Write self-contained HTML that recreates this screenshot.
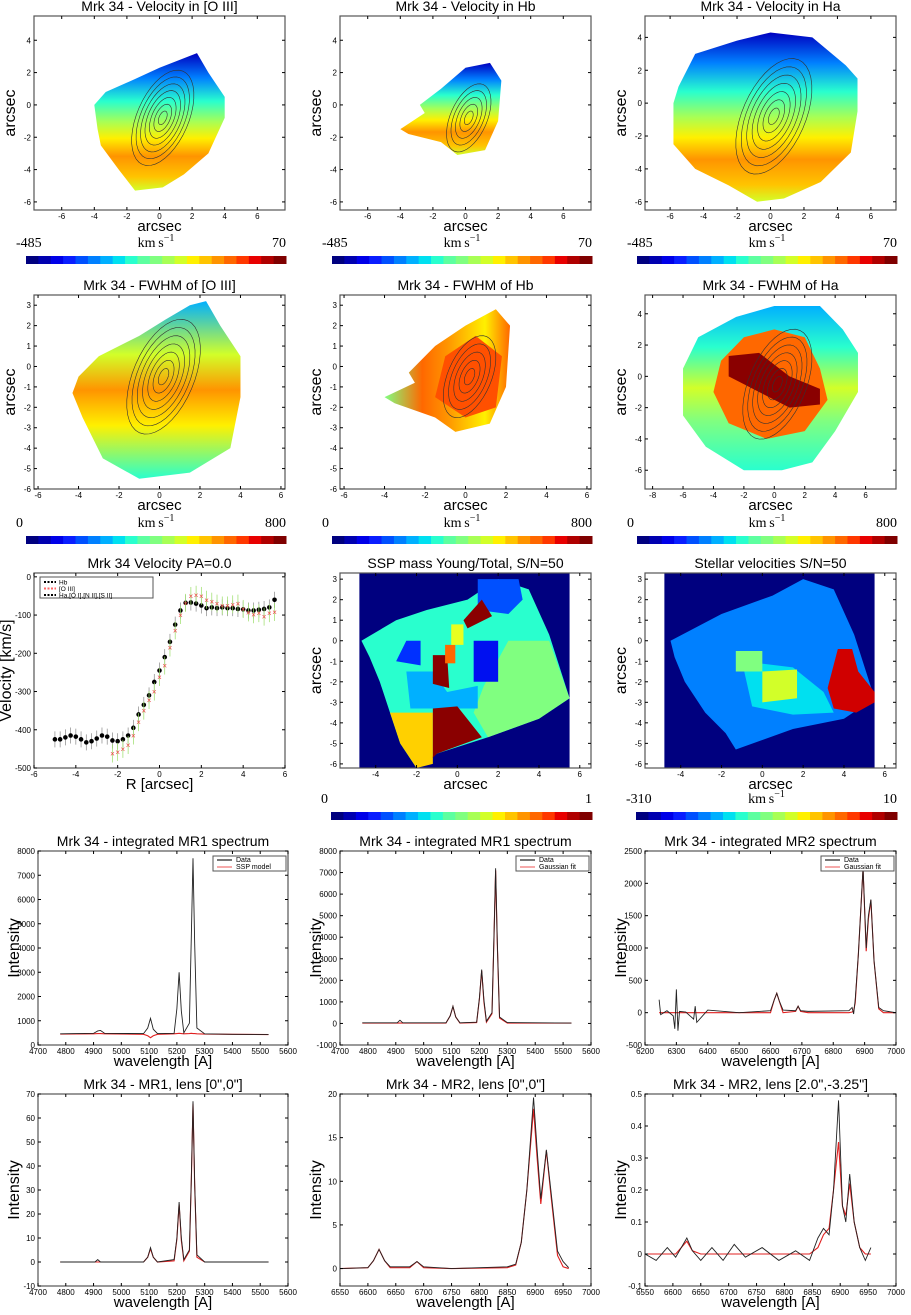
<!DOCTYPE html>
<html><head><meta charset="utf-8"><style>
body{margin:0;background:#fff;width:911px;height:1310px;overflow:hidden;font-family:"Liberation Sans",sans-serif}
svg text{font-family:"Liberation Sans",sans-serif}
</style></head><body>
<svg id="fig" width="911" height="1310" viewBox="0 0 911 1310" xmlns="http://www.w3.org/2000/svg"></svg>
<script>
// ---- data arrays ----
const paR=[-5,-4.75,-4.5,-4.25,-4,-3.75,-3.5,-3.25,-3,-2.75,-2.5,-2.25,-2,-1.75,-1.5,-1.25,-1,-0.75,-0.5,-0.25,0,0.25,0.5,0.75,1,1.25,1.5,1.75,2,2.25,2.5,2.75,3,3.25,3.5,3.75,4,4.25,4.5,4.75,5,5.25,5.5];
const paHa=[-425,-425,-420,-415,-418,-425,-433,-430,-423,-415,-418,-428,-430,-425,-415,-395,-360,-335,-310,-275,-245,-210,-170,-125,-88,-68,-67,-70,-75,-82,-80,-82,-80,-82,-82,-84,-85,-88,-88,-86,-84,-80,-60];
const paO3R=[-2.25,-2,-1.75,-1.5,-1.25,-1,-0.75,-0.5,-0.25,0,0.25,0.5,0.75,1,1.25,1.5,1.75,2,2.25,2.5,2.75,3,3.25,3.5,3.75,4,4.25,4.5,4.75,5,5.25,5.5];
const paO3=[-462,-458,-450,-440,-415,-380,-350,-322,-300,-262,-232,-185,-140,-100,-68,-50,-47,-50,-60,-65,-70,-75,-75,-72,-70,-84,-93,-98,-95,-104,-95,-92];
const specA_w=[4780,4900,4915,4925,4940,5080,5095,5105,5115,5130,5190,5200,5208,5216,5225,5245,5252,5258,5264,5272,5300,5400,5530];
const specA_d=[460,480,580,600,480,470,700,1100,650,470,480,1500,3000,1400,500,900,4500,7700,4200,700,460,440,430];
const specA_m=[450,460,470,470,460,440,380,300,380,440,460,470,480,470,460,470,480,470,470,460,450,440,430];
const specB_w=[4780,4905,4915,4925,5080,5095,5105,5115,5130,5190,5200,5208,5216,5225,5245,5252,5258,5264,5272,5300,5530];
const specB_d=[30,30,150,30,30,350,800,300,30,60,1200,2500,1100,100,500,4000,7200,3800,300,40,20];
const specB_m=[20,20,20,20,20,350,780,300,20,40,1150,2450,1000,60,450,3900,7100,3700,250,20,20];
const specC_w=[6245,6250,6270,6290,6295,6300,6305,6310,6330,6355,6360,6365,6400,6500,6600,6612,6620,6628,6640,6680,6688,6696,6720,6850,6860,6865,6870,6880,6895,6905,6912,6920,6930,6945,6960,7000];
const specC_d=[200,-30,30,-50,-250,360,-280,20,10,-100,100,-150,40,0,30,200,300,180,40,30,100,30,20,30,80,-20,200,900,2250,1000,1500,1750,800,80,30,0];
const specC_m=[0,0,0,0,0,0,0,0,0,0,0,0,0,0,0,200,300,180,0,20,100,20,0,0,10,30,150,900,2220,950,1450,1740,800,60,0,0];
const specD_w=[4780,4905,4915,4925,5080,5095,5105,5115,5130,5190,5200,5208,5216,5225,5245,5252,5258,5264,5272,5300,5530];
const specD_d=[0,0,1,0,0,2,6,2,0,1,10,25,10,1,5,35,67,33,3,0,0];
const specD_m=[0,0,0,0,0,2,5.5,2,0,0.5,9.5,24,9,0.5,4.5,34,66,32,2,0,0];
const specE_w=[6550,6600,6610,6620,6630,6640,6675,6688,6700,6750,6850,6865,6875,6885,6897,6903,6910,6920,6928,6940,6950,6960];
const specE_d=[0,0.1,0.9,2.2,0.9,0.2,0.2,0.8,0.2,0,0.2,0.5,3,9,19.6,14,8,13.6,9,2,0.8,0.1];
const specE_m=[0,0.1,0.9,2.2,0.9,0.1,0.1,0.8,0.1,0,0.1,0.4,3,9,18.3,13,7.4,13.5,8.5,1.5,0.2,0];
const specF_w=[6550,6570,6590,6605,6615,6625,6635,6650,6670,6690,6710,6730,6760,6790,6820,6845,6860,6870,6880,6888,6897,6904,6910,6917,6925,6935,6945,6955];
const specF_d=[0,-0.02,0.02,-0.01,0.02,0.05,0.01,-0.02,0.02,-0.02,0.03,-0.01,0.02,-0.02,0.01,-0.02,0.05,0.08,0.06,0.2,0.48,0.15,0.1,0.25,0.1,0.02,-0.02,0.02];
const specF_m=[0,0,0,0,0.02,0.04,0.01,0,0,0,0,0,0,0,0,0,0.02,0.06,0.08,0.2,0.35,0.15,0.12,0.22,0.1,0.02,0,0];
const jet=['#00007f','#0000b0','#0000e8','#0a1eff','#0050ff','#0080ff','#00b0ff','#00e0f0','#29ffce','#5dffa0','#80ff80','#a8ff55','#d2ff29','#fff000','#ffc400','#ff9400','#ff6800','#ff3800','#e80000','#b00000','#7f0000'];

const S=document.getElementById('fig');const NS='http://www.w3.org/2000/svg';
function el(t,a,p){const e=document.createElementNS(NS,t);for(const k in a)e.setAttribute(k,a[k]);(p||S).appendChild(e);return e;}
function txt(x,y,s,size,anchor,p,rot){const e=el('text',{x:x,y:y,'font-size':size,'text-anchor':anchor||'middle',fill:'#000'},p);if(rot)e.setAttribute('transform','rotate(-90 '+x+' '+y+')');e.textContent=s;return e;}
function axes(name,x0,y0,x1,y1,xmin,xmax,ymin,ymax,xt,yt,title,xl,yl,ylx){
  const g=el('g',{});
  const sx=v=>x0+(v-xmin)/(xmax-xmin)*(x1-x0), sy=v=>y1-(v-ymin)/(ymax-ymin)*(y1-y0);
  return {g,sx,sy,finish(){
    el('rect',{x:x0,y:y0,width:x1-x0,height:y1-y0,fill:'none',stroke:'#555','stroke-width':1.2},g);
    xt.forEach(v=>{el('line',{x1:sx(v),x2:sx(v),y1:y1,y2:y1-3,stroke:'#000'},g);el('line',{x1:sx(v),x2:sx(v),y1:y0,y2:y0+3,stroke:'#000'},g);txt(sx(v),y1+9,String(v),8,'middle',g);});
    yt.forEach(v=>{el('line',{x1:x0,x2:x0+3,y1:sy(v),y2:sy(v),stroke:'#000'},g);el('line',{x1:x1,x2:x1-3,y1:sy(v),y2:sy(v),stroke:'#000'},g);txt(x0-3,sy(v)+3,String(v),8,'end',g);});
    const t=txt((x0+x1)/2,y0-5,title,14,'middle',g);
    txt((x0+x1)/2,y1+21,xl,15,'middle',g);
    txt(ylx||x0-19,(y0+y1)/2,yl,16,'middle',g,true);
  }};
}
function colorbar(x0,x1,y,lo,hi,unit){
  const g=el('g',{});
  const w=(x1-x0)/jet.length;jet.forEach((c,i)=>el('rect',{x:x0+i*w,y:y,width:w+0.5,height:8,fill:c},g));
  const f='font-family:"Liberation Serif",serif';
  let a=txt(x0-10,y-9,lo,14,'start',g);a.setAttribute('style',f);
  a=txt(x1,y-9,hi,14,'end',g);a.setAttribute('style',f);
  if(unit){a=txt((x0+x1)/2,y-9,'',14,'middle',g);a.setAttribute('style',f);a.innerHTML='km\u2009s<tspan dy="-6" font-size="10">\u22121</tspan>';}
}
let gid=0;
function grad(stops,vertical){const id='g'+(gid++);const d=el('defs',{});const lg=el('linearGradient',{id:id,x1:0,y1:0,x2:vertical?0:1,y2:vertical?1:0},d);stops.forEach(s=>el('stop',{offset:s[0],'stop-color':s[1]},lg));return 'url(#'+id+')';}
function blob(A,pts,fill,name){const p=el('polygon',{points:pts.map(q=>A.sx(q[0])+','+A.sy(q[1])).join(' '),fill:fill},A.g);return p;}
function contours(A,cx,cy,n,sc,dash){for(let i=1;i<=n;i++){const r=i*sc;
  const pts=[];for(let k=0;k<=40;k++){const t=k/40*2*Math.PI;const x=cx+0.6*r*Math.cos(t)+0.25*r*Math.sin(t);const y=cy+r*Math.sin(t)*1.0+0.1*r*Math.cos(t);pts.push(A.sx(x)+','+A.sy(y));}
  el('polyline',{points:pts.join(' '),fill:'none',stroke:'#333','stroke-width':0.6,'stroke-dasharray':dash||'none'},A.g);}}

const velGrad=()=>grad([[0,'#0000c0'],[0.18,'#0080ff'],[0.35,'#29ffce'],[0.5,'#a8ff55'],[0.62,'#fff000'],[0.75,'#ff9400'],[0.9,'#ffc400'],[1,'#d2ff29']],true);
const cols=[[34,285],[340,591],[645,896]];
// Row 1 velocity maps
const r1t=['Mrk 34 - Velocity in [O III]','Mrk 34 - Velocity in Hb','Mrk 34 - Velocity in Ha'];
const r1shapes=[
 [[-4,0],[-3.3,0.8],[-1.5,1.6],[0,2.3],[2.3,3.2],[3,2],[4,0.5],[4,-0.8],[3,-3],[1.5,-4.3],[0.2,-5.1],[-1.5,-5.3],[-2.5,-4],[-3.6,-2.5],[-3.8,-1.5]],
 [[-2.8,0],[-1.5,1],[0,2.3],[1.5,2.6],[2.2,1.5],[2,-1],[1.2,-2.8],[-0.5,-3.1],[-1.5,-2.3],[-3.5,-1.8],[-4,-1.5],[-2.5,-0.5]],
 [[-5.5,1],[-4.5,3],[-2,3.8],[0,4.3],[2.5,4],[4.5,2.3],[5.2,1.5],[5.2,-0.5],[4.8,-3],[3,-4.8],[0.8,-5.8],[-0.8,-6],[-2.5,-5],[-4.5,-4],[-5.8,-2.5],[-5.8,0]]];
const r1rng=[[-7.7,7.7,-6.5,5.5],[-7.7,7.7,-6.5,5.5],[-7.5,7.5,-6.5,5.3]];
for(let c=0;c<3;c++){const [a,b]=cols[c];const R=r1rng[c];
  const A=axes('velocity-map-'+(c+1),a,16,b,210,R[0],R[1],R[2],R[3],[-6,-4,-2,0,2,4,6],[-6,-4,-2,0,2,4],r1t[c],'arcsec','arcsec');
  blob(A,r1shapes[c],velGrad(),'velocity-field');contours(A,0.2,-0.8,c==1?5:7,c==2?0.5:0.42);A.finish();
  colorbar(a-8,b+1,256,'-485','70',true);}
// Row 2 FWHM maps
const r2t=['Mrk 34 - FWHM of [O III]','Mrk 34 - FWHM of Hb','Mrk 34 - FWHM of Ha'];
const r2rng=[[-6.2,6.2,-6,3.5],[-6.2,6.2,-6,3.5],[-8.5,8,-7.2,5.2]];
const r2ticks=[[[-6,-4,-2,0,2,4,6],[-6,-5,-4,-3,-2,-1,0,1,2,3]],[[-6,-4,-2,0,2,4,6],[-6,-5,-4,-3,-2,-1,0,1,2,3]],[[-8,-6,-4,-2,0,2,4,6],[-6,-4,-2,0,2,4]]];
const r2shapes=[
 [[-4,-0.5],[-3,0.5],[-1,1.5],[0.3,2.3],[1.5,3],[2.3,3.2],[3,2],[4,0.5],[4,-1.5],[3.5,-4],[1.5,-5.2],[-1,-5.5],[-2.8,-4.5],[-3.8,-2.5],[-4.3,-1.3]],
 [[-2.8,-0.3],[-1.5,1],[0,2],[1.5,2.8],[2.2,2],[2,-1],[1.2,-2.8],[-0.5,-3.2],[-1.5,-2.5],[-3.5,-1.8],[-4,-1.5],[-2.5,-0.8]],
 [[-6,0.5],[-5,2.5],[-2.5,3.8],[0,4.5],[3,4.5],[4.5,3],[5.5,1.5],[5.5,-1],[4,-3.5],[2.5,-5.5],[0.5,-6],[-2,-6],[-4.5,-4.5],[-6,-2.5]]];
const r2fill=[
 grad([[0,'#00b0ff'],[0.3,'#d2ff29'],[0.5,'#ff9400'],[0.7,'#fff000'],[1,'#29ffce']],true),
 grad([[0,'#80ff80'],[0.3,'#ff6800'],[0.5,'#ff9400'],[0.8,'#fff000'],[1,'#ff6800']],false),
 grad([[0,'#00b0ff'],[0.25,'#29ffce'],[0.5,'#d2ff29'],[0.7,'#80ff80'],[1,'#29ffce']],true)];
for(let c=0;c<3;c++){const [a,b]=cols[c];const R=r2rng[c];
  const A=axes('fwhm-map-'+(c+1),a,295,b,489,R[0],R[1],R[2],R[3],r2ticks[c][0],r2ticks[c][1],r2t[c],'arcsec','arcsec');
  blob(A,r2shapes[c],r2fill[c],'fwhm-field');
  if(c==2){blob(A,[[-3.5,1],[-2,2.5],[0,3],[2,2.5],[3,0.5],[3.5,-1.5],[2,-3.5],[-0.5,-4],[-3,-3],[-4,-1]],'#ff6800','fwhm-high');
    blob(A,[[-3,1.3],[-1,1.5],[1,0],[3,-0.8],[3,-1.8],[1,-2],[-1,-1],[-3,0]],'#8a0000','fwhm-peak');}
  if(c==1){blob(A,[[-1,0.5],[0.5,1.5],[1.8,0.5],[1.5,-2],[0,-2.5],[-1.5,-1.5]],'#ff5000','fwhm-high');}
  contours(A,0.2,-0.5,c==1?5:7,c==2?0.5:0.4);A.finish();
  colorbar(a-8,b+1,536,'0','800',true);}
// Row 3 col1: velocity PA
{const A=axes('velocity-pa-chart',34,573,285,768,-6,6,-500,10,[-6,-4,-2,0,2,4,6],[-500,-400,-300,-200,-100,0],'Mrk 34  Velocity PA=0.0','R [arcsec]','Velocity [km/s]',11);
 paR.forEach((r,i)=>{const x=A.sx(r),y=A.sy(paHa[i]);el('line',{x1:x,x2:x,y1:y-8,y2:y+8,stroke:'#888','stroke-width':0.7},A.g);const m=el('circle',{cx:x,cy:y,r:2.3,fill:'#000'},A.g);});
 paO3R.forEach((r,i)=>{const x=A.sx(r),y=A.sy(paO3[i]);el('line',{x1:x,x2:x,y1:y-9,y2:y+9,stroke:'#9d6','stroke-width':0.7},A.g);const m=el('text',{x:x,y:y+3,'font-size':8,'text-anchor':'middle',fill:'#e44'},A.g);m.textContent='×';});
 const L=el('g',{},A.g);
 el('rect',{x:40,y:577,width:113,height:21,fill:'#fff',stroke:'#555'},L);
 [['Hb','#000'],['[O III]','#f66'],['Ha,[O I],[N II],[S II]','#000']].forEach((e,i)=>{el('line',{x1:44,x2:56,y1:582+i*6.5,y2:582+i*6.5,stroke:e[1],'stroke-width':2,'stroke-dasharray':'2,1.5'},L);txt(59,584.5+i*6.5,e[0],6.5,'start',L);});
 A.finish();}
// Row 3 col2: SSP
{const A=axes('ssp-map',340,573,591,768,-5.75,6.55,-6.2,3.3,[-4,-2,0,2,4,6],[-6,-5,-4,-3,-2,-1,0,1,2,3],'SSP mass Young/Total, S/N=50','arcsec','arcsec');
 blob(A,[[-4.8,3.3],[5.5,3.3],[5.5,-6.2],[-4.8,-6.2]],'#00007f','background');
 blob(A,[[-4.7,0],[-3,1],[-1.5,1.5],[0.5,2],[2,3],[3.5,2.5],[4.5,0.3],[5.5,-2.8],[4,-3.8],[1.5,-4.7],[-1,-5.5],[-2,-6.2],[-2.8,-5],[-3.3,-3.5],[-3.8,-2],[-4.3,-0.8]],'#29ffce');
 blob(A,[[2.5,0],[4.5,0],[5.5,-2.8],[4,-3.8],[1.5,-4.7],[0.8,-3.5],[1.3,-2.2]],'#80ff80');
 blob(A,[[1,3],[3,3],[3.2,2],[2.5,1.3],[1,1.5]],'#0050ff');
 blob(A,[[-2.5,-1.5],[-1.2,-1.5],[-0.5,-2.5],[1,-2.2],[1,-3.3],[-2.3,-3.3]],'#00b0ff');
 blob(A,[[-3.3,-3.5],[-1.2,-3.5],[-1.2,-6],[-2,-6.2],[-2.8,-5]],'#ffd000');
 blob(A,[[-1.2,-3.3],[0,-3.2],[1.2,-4.7],[-1,-5.5],[-1.2,-5.7]],'#8a0000');
 blob(A,[[-1.2,-0.7],[-0.5,-0.7],[-0.4,-2.3],[-1.2,-2.1]],'#8a0000');
 blob(A,[[0.3,1],[1.2,2],[1.7,1.2],[0.5,0.6]],'#8a0000');
 blob(A,[[0.8,0],[2,0],[2,-2],[0.8,-2]],'#0010f0');
 blob(A,[[-2.5,0],[-1.8,0],[-1.8,-1.2],[-3,-1]],'#0030ff');
 blob(A,[[-0.6,-0.2],[-0.1,-0.2],[-0.1,-1.1],[-0.6,-1.1]],'#ff6800');
 blob(A,[[-0.3,0.8],[0.3,0.8],[0.3,-0.2],[-0.3,-0.2]],'#e8ff20');
 A.finish();colorbar(331,592,812,'0','1',false);}
// Row 3 col3: stellar velocities
{const A=axes('stellar-velocity-map',645,573,896,768,-5.75,6.55,-6.2,3.3,[-4,-2,0,2,4,6],[-6,-5,-4,-3,-2,-1,0,1,2,3],'Stellar velocities S/N=50','arcsec','arcsec');
 blob(A,[[-4.8,3.3],[5.5,3.3],[5.5,-6.2],[-4.8,-6.2]],'#00007f','background');
 blob(A,[[-4.5,0],[-2,1.3],[0.5,2.2],[2,3],[3.5,2.5],[4.5,0.3],[5.5,-2.8],[4,-3.8],[1.5,-4.3],[-1.3,-5.3],[-1.8,-4.5],[-2.8,-3.5],[-3.8,-2],[-4.3,-0.8]],'#0080ff');
 blob(A,[[-1,-1],[1.5,-1.3],[3,-2.5],[3.5,-3.5],[1.5,-3.6],[-0.5,-3.2]],'#00e0f0');
 blob(A,[[0,-1.5],[1.7,-1.4],[1.7,-2.8],[0,-3]],'#d2ff29');
 blob(A,[[-1.3,-0.5],[0,-0.5],[0,-1.5],[-1.3,-1.5]],'#80ff80');
 blob(A,[[3.7,-0.4],[4.4,-0.4],[4.7,-1.5],[5.5,-2.5],[5.5,-3],[4.6,-3.5],[3.5,-3.3],[3.2,-2.3]],'#d00000');
 A.finish();colorbar(636,897,812,'-310','10',true);}
// spectra
function spec(name,x0,y0,x1,y1,xmin,xmax,ymin,ymax,xt,yt,title,W,D,M,leg){
  const A=axes(name,x0,y0,x1,y1,xmin,xmax,ymin,ymax,xt,yt,title,'wavelength [A]','Intensity');
  const line=(arr,c,w,n)=>{const p=el('polyline',{points:W.map((v,i)=>A.sx(v)+','+A.sy(arr[i])).join(' '),fill:'none',stroke:c,'stroke-width':w},A.g);};
  line(M,'#e02020',1.1,'model-line');line(D,'#222',0.9,'data-line');
  if(leg){const L=el('g',{},A.g);
    el('rect',{x:x1-75,y:y0+5,width:73,height:15,fill:'#fff',stroke:'#555'},L);
    el('line',{x1:x1-71,x2:x1-56,y1:y0+9,y2:y0+9,stroke:'#777','stroke-width':2},L);txt(x1-52,y0+11,'Data',7,'start',L);
    el('line',{x1:x1-71,x2:x1-56,y1:y0+16,y2:y0+16,stroke:'#e55','stroke-width':1},L);txt(x1-52,y0+18,leg,7,'start',L);}
  A.finish();}
const wA=[4700,4800,4900,5000,5100,5200,5300,5400,5500,5600];
spec('spectrum-mr1-ssp',38,851,288,1045,4700,5600,0,8000,wA,[0,1000,2000,3000,4000,5000,6000,7000,8000],'Mrk 34 - integrated MR1 spectrum',specA_w,specA_d,specA_m,'SSP model');
spec('spectrum-mr1-gauss',340,851,591,1045,4700,5600,-1000,8000,wA,[-1000,0,1000,2000,3000,4000,5000,6000,7000,8000],'Mrk 34 - integrated MR1 spectrum',specB_w,specB_d,specB_m,'Gaussian fit');
spec('spectrum-mr2-gauss',645,851,896,1045,6200,7000,-500,2500,[6200,6300,6400,6500,6600,6700,6800,6900,7000],[-500,0,500,1000,1500,2000,2500],'Mrk 34 - integrated MR2 spectrum',specC_w,specC_d,specC_m,'Gaussian fit');
spec('spectrum-mr1-lens',38,1094,288,1286,4700,5600,-10,70,wA,[-10,0,10,20,30,40,50,60,70],'Mrk 34  - MR1, lens [0",0"]',specD_w,specD_d,specD_m,null);
const wE=[6550,6600,6650,6700,6750,6800,6850,6900,6950,7000];
spec('spectrum-mr2-lens-center',340,1094,591,1286,6550,7000,-2,20,wE,[0,5,10,15,20],'Mrk 34  - MR2, lens [0",0"]',specE_w,specE_d,specE_m,null);
spec('spectrum-mr2-lens-offset',645,1094,896,1286,6550,7000,-0.1,0.5,wE,[-0.1,0,0.1,0.2,0.3,0.4,0.5],'Mrk 34  - MR2, lens [2.0",-3.25"]',specF_w,specF_d,specF_m,null);
</script>
</body></html>
